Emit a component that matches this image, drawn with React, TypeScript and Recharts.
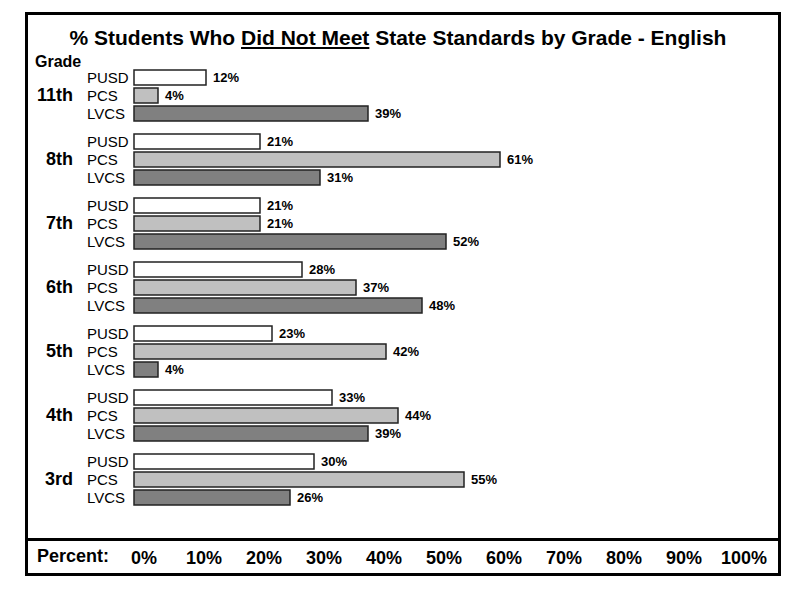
import React from 'react';
import { BarChart, Bar, XAxis, YAxis, LabelList } from 'recharts';

const grades = ['11th', '8th', '7th', '6th', '5th', '4th', '3rd'];
const pusd = [12, 21, 21, 28, 23, 33, 30];
const pcs = [4, 61, 21, 37, 42, 44, 55];
const lvcs = [39, 31, 52, 48, 4, 39, 26];
const percentTicks = [0, 10, 20, 30, 40, 50, 60, 70, 80, 90, 100];

const seriesNames = { pusd: 'PUSD', pcs: 'PCS', lvcs: 'LVCS' };
const colors = { pusd: '#ffffff', pcs: '#c0c0c0', lvcs: '#808080' };

const data = grades.map((g, i) => ({ grade: g, pusd: pusd[i], pcs: pcs[i], lvcs: lvcs[i] }));

const FONT = 'Arial, "Liberation Sans", Helvetica, sans-serif';

const SeriesName = (props: any) => {
  const { x, y, height, name } = props;
  return (
    <text x={x - 47} y={y + height / 2} dominantBaseline="central" fontSize={15} fontFamily={FONT} fill="#000">
      {name}
    </text>
  );
};

const GradeTick = (props: any) => {
  const { y, payload } = props;
  return (
    <text x={73} y={y} textAnchor="end" dominantBaseline="central" fontSize={18} fontWeight="bold" fontFamily={FONT} fill="#000">
      {payload.value}
    </text>
  );
};

const PercentTick = (props: any) => {
  const { x, y, payload } = props;
  return (
    <text x={x + 10} y={y + 45} textAnchor="middle" fontSize={18} fontWeight="bold" fontFamily={FONT} fill="#000">
      {payload.value + '%'}
    </text>
  );
};

export default function App() {
  const keys: Array<'pusd' | 'pcs' | 'lvcs'> = ['pusd', 'pcs', 'lvcs'];
  return (
    <div style={{ position: 'absolute', left: 0, top: 0, width: 800, height: 600, background: '#fff', fontFamily: FONT }}>
      <div style={{ position: 'absolute', left: 25, top: 12, width: 750, height: 558, border: '3px solid #000' }} />
      <div style={{ position: 'absolute', left: 25, top: 538, width: 756, height: 3, background: '#000' }} />
      <div style={{ position: 'absolute', left: 0, top: 26, width: 796, textAlign: 'center', fontSize: 21, fontWeight: 'bold', color: '#000', whiteSpace: 'nowrap' }}>
        % Students Who <u>Did Not Meet</u> State Standards by Grade - English
      </div>
      <div style={{ position: 'absolute', left: 35, top: 53, fontSize: 16, fontWeight: 'bold', color: '#000' }}>Grade</div>
      <div style={{ position: 'absolute', left: 37, top: 546, fontSize: 18, fontWeight: 'bold', color: '#000' }}>Percent:</div>
      <div style={{ position: 'absolute', left: 0, top: 0 }}>
        <BarChart
          width={800}
          height={600}
          data={data}
          layout="vertical"
          margin={{ top: 63, right: 66, bottom: 0, left: 0 }}
          barSize={15}
          barGap={3}
        >
          <XAxis
            type="number"
            domain={[0, 100]}
            ticks={percentTicks}
            axisLine={false}
            tickLine={false}
            height={89}
            tick={<PercentTick />}
            interval={0}
          />
          <YAxis type="category" dataKey="grade" width={134} axisLine={false} tickLine={false} tick={<GradeTick />} />
          {keys.map((k) => (
            <Bar key={k} dataKey={k} fill={colors[k]} stroke="#222" strokeWidth={1.5} isAnimationActive={false}>
              <LabelList dataKey={k} content={(p: any) => <SeriesName {...p} name={seriesNames[k]} />} />
              <LabelList
                dataKey={k}
                position="right"
                offset={7}
                formatter={(v: any) => v + '%'}
                fill="#000"
                fontSize={13}
                fontWeight="bold"
                fontFamily={FONT}
              />
            </Bar>
          ))}
        </BarChart>
      </div>
    </div>
  );
}
